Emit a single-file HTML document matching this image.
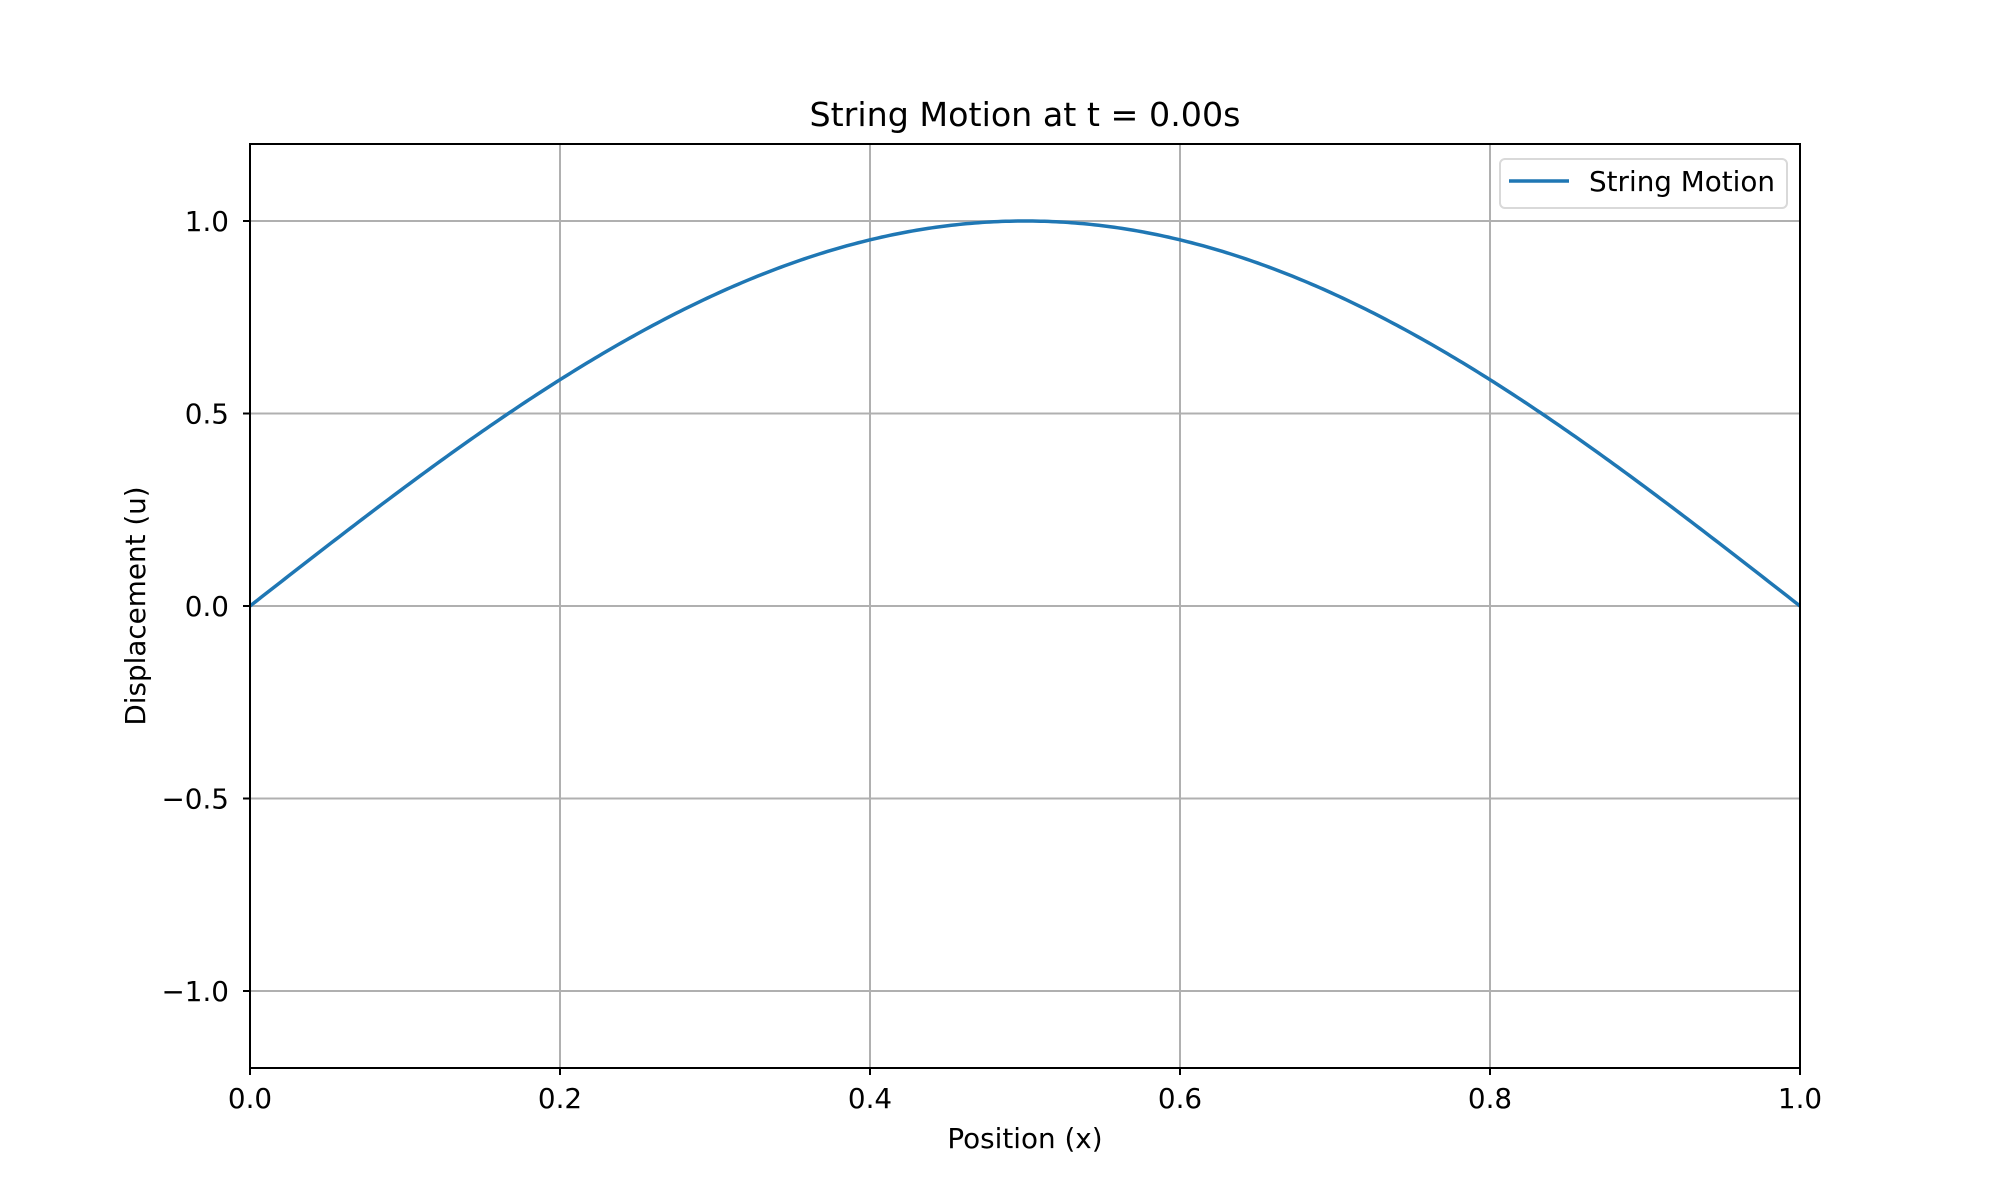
<!DOCTYPE html>
<html><head><meta charset="utf-8"><style>body{margin:0;background:#fff}svg{display:block}</style></head>
<body>
<svg id="s" width="2000" height="1200" xmlns="http://www.w3.org/2000/svg" font-family="DejaVu Sans, Liberation Sans, sans-serif">
<rect width="2000" height="1200" fill="#fff"/>
<g stroke="#b0b0b0" stroke-width="2">
<line x1="250" y1="144" x2="250" y2="1068"/><line x1="560" y1="144" x2="560" y2="1068"/><line x1="870" y1="144" x2="870" y2="1068"/><line x1="1180" y1="144" x2="1180" y2="1068"/><line x1="1490" y1="144" x2="1490" y2="1068"/><line x1="1800" y1="144" x2="1800" y2="1068"/>
<line x1="250" y1="221" x2="1800" y2="221"/><line x1="250" y1="413.5" x2="1800" y2="413.5"/><line x1="250" y1="606" x2="1800" y2="606"/><line x1="250" y1="798.5" x2="1800" y2="798.5"/><line x1="250" y1="991" x2="1800" y2="991"/>
</g>
<polyline id="c" fill="none" stroke="#1f77b4" stroke-width="3.5" points=""/>
<rect x="250" y="144" width="1550" height="924" fill="none" stroke="#000" stroke-width="2"/>
<g stroke="#000" stroke-width="2">
<line x1="250" y1="1068" x2="250" y2="1075"/><line x1="560" y1="1068" x2="560" y2="1075"/><line x1="870" y1="1068" x2="870" y2="1075"/><line x1="1180" y1="1068" x2="1180" y2="1075"/><line x1="1490" y1="1068" x2="1490" y2="1075"/><line x1="1800" y1="1068" x2="1800" y2="1075"/>
<line x1="243" y1="221" x2="250" y2="221"/><line x1="243" y1="413.5" x2="250" y2="413.5"/><line x1="243" y1="606" x2="250" y2="606"/><line x1="243" y1="798.5" x2="250" y2="798.5"/><line x1="243" y1="991" x2="250" y2="991"/>
</g>
<g font-size="27.8" fill="#000" text-anchor="middle">
<text x="250" y="1108">0.0</text><text x="560" y="1108">0.2</text><text x="870" y="1108">0.4</text><text x="1180" y="1108">0.6</text><text x="1490" y="1108">0.8</text><text x="1800" y="1108">1.0</text>
</g>
<g font-size="27.8" fill="#000" text-anchor="end">
<text x="229" y="231">1.0</text><text x="229" y="423.5">0.5</text><text x="229" y="616">0.0</text><text x="229" y="808.5">−0.5</text><text x="229" y="1001">−1.0</text>
</g>
<text x="1025" y="1148" font-size="27.8" text-anchor="middle">Position (x)</text>
<text transform="translate(145,606) rotate(-90)" font-size="27.8" text-anchor="middle">Displacement (u)</text>
<text x="1025" y="126" font-size="33.3" text-anchor="middle">String Motion at t = 0.00s</text>
<rect x="1500" y="159" width="287" height="49" rx="5" fill="#fff" fill-opacity="0.8" stroke="#d9d9d9" stroke-width="2"/>
<line x1="1509" y1="181" x2="1569" y2="181" stroke="#1f77b4" stroke-width="3.5"/>
<text x="1589" y="191" font-size="27.8">String Motion</text>
</svg>
<script>
var p=[];for(var i=0;i<=400;i++){var x=i/400;p.push((250+1550*x).toFixed(2)+","+(606-385*Math.sin(Math.PI*x)).toFixed(2));}
document.getElementById("c").setAttribute("points",p.join(" "));
</script>
</body></html>
